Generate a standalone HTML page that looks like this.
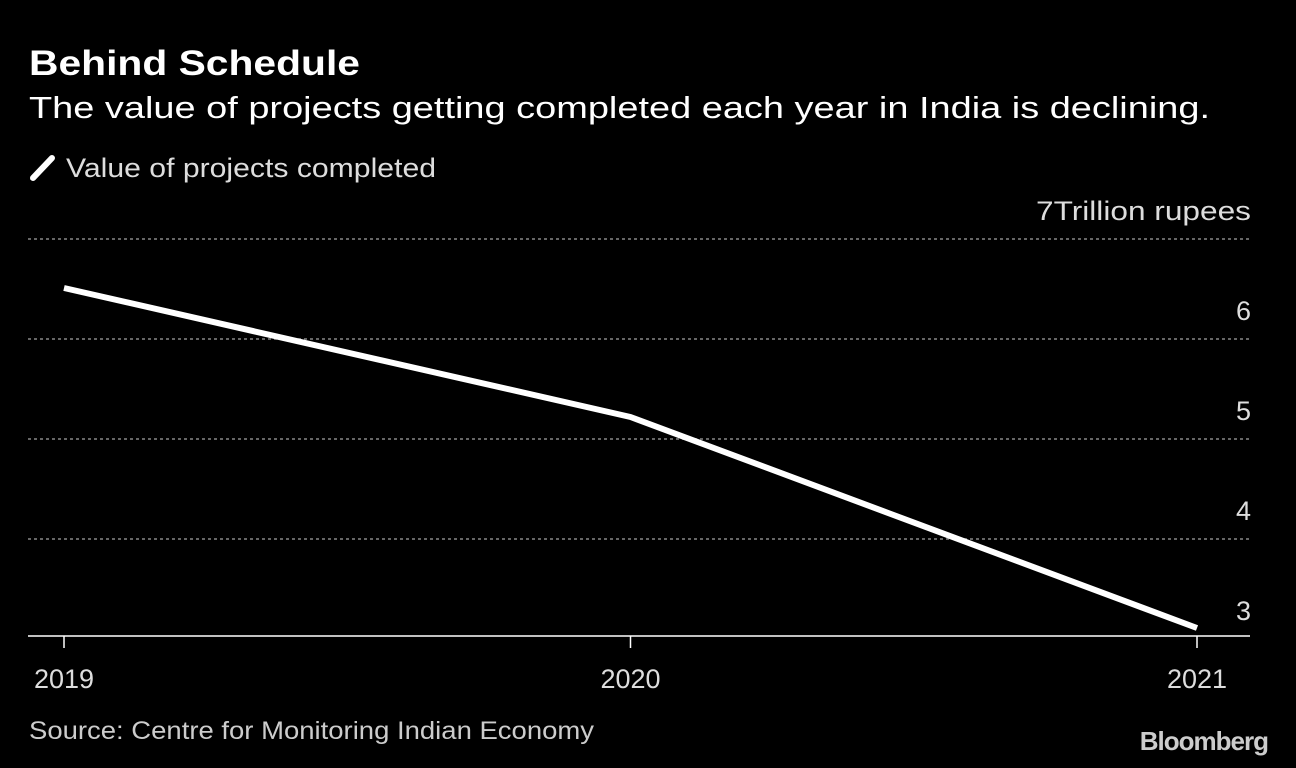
<!DOCTYPE html>
<html><head><meta charset="utf-8">
<style>
body{margin:0;background:#000;width:1296px;height:768px;overflow:hidden;font-family:"Liberation Sans",sans-serif;color:#fff}
svg{position:absolute;left:0;top:0}
</style></head>
<body>
<svg width="1296" height="768" id="c">
<text x="29" y="75" font-size="35" font-weight="bold" fill="#fff" textLength="331" lengthAdjust="spacingAndGlyphs">Behind Schedule</text>
<text x="29" y="118" font-size="31" fill="#fff" textLength="1181" lengthAdjust="spacingAndGlyphs">The value of projects getting completed each year in India is declining.</text>
<line x1="33" y1="178" x2="52" y2="158" stroke="#fff" stroke-width="6" stroke-linecap="round"/>
<text x="66" y="177" font-size="27" fill="#ddd" textLength="370" lengthAdjust="spacingAndGlyphs">Value of projects completed</text>
<g id="grid"></g>
<line x1="28" y1="636" x2="1250" y2="636" stroke="#fff" stroke-width="1.5"/>
<g id="xt"></g>
<polyline id="ln" fill="none" stroke="#fff" stroke-width="6" stroke-linejoin="round"/>
<text x="29" y="739" font-size="25" fill="#ccc" textLength="565" lengthAdjust="spacingAndGlyphs">Source: Centre for Monitoring Indian Economy</text>
<text x="1268" y="750" font-size="26" font-weight="bold" fill="#ccc" text-anchor="end" letter-spacing="-1">Bloomberg</text>
</svg>
<script>
const years=["2019","2020","2021"];
const values=[6.51,5.22,3.11];
const yTicks=[7,6,5,4,3];
const yLabels=["7Trillion rupees","6","5","4","3"];
const NS="http://www.w3.org/2000/svg";
function xS(i){return 64+i*(1197-64)/(years.length-1);}
function yS(v){return 239+(7-v)*100;}
const g=document.getElementById('grid');
yTicks.forEach((t,i)=>{
  if(t>3){const l=document.createElementNS(NS,'line');
  l.setAttribute('x1',28);l.setAttribute('x2',1250);l.setAttribute('y1',yS(t));l.setAttribute('y2',yS(t));
  l.setAttribute('stroke','#888');l.setAttribute('stroke-dasharray','3,3');l.setAttribute('stroke-width','1.5');
  
  
  g.appendChild(l);}
  const tx=document.createElementNS(NS,'text');
  tx.setAttribute('x',1251);tx.setAttribute('y',yS(t)-19);tx.setAttribute('text-anchor','end');
  tx.setAttribute('font-size','27');tx.setAttribute('fill','#ddd');tx.textContent=yLabels[i];
  if(yLabels[i].length>3){tx.setAttribute('textLength','215');tx.setAttribute('lengthAdjust','spacingAndGlyphs');}
  
  
  g.appendChild(tx);
});
const xt=document.getElementById('xt');
years.forEach((y,i)=>{
  const l=document.createElementNS(NS,'line');
  l.setAttribute('x1',xS(i));l.setAttribute('x2',xS(i));l.setAttribute('y1',636);l.setAttribute('y2',648);
  l.setAttribute('stroke','#fff');l.setAttribute('stroke-width','1.5');
  
  
  xt.appendChild(l);
  const tx=document.createElementNS(NS,'text');
  tx.setAttribute('x',xS(i));tx.setAttribute('y',688);tx.setAttribute('text-anchor','middle');
  tx.setAttribute('font-size','27');tx.setAttribute('fill','#ddd');tx.textContent=y;
  
  
  xt.appendChild(tx);
});
document.getElementById('ln').setAttribute('points',values.map((v,i)=>xS(i)+','+yS(v)).join(' '));
</script>
</body></html>
